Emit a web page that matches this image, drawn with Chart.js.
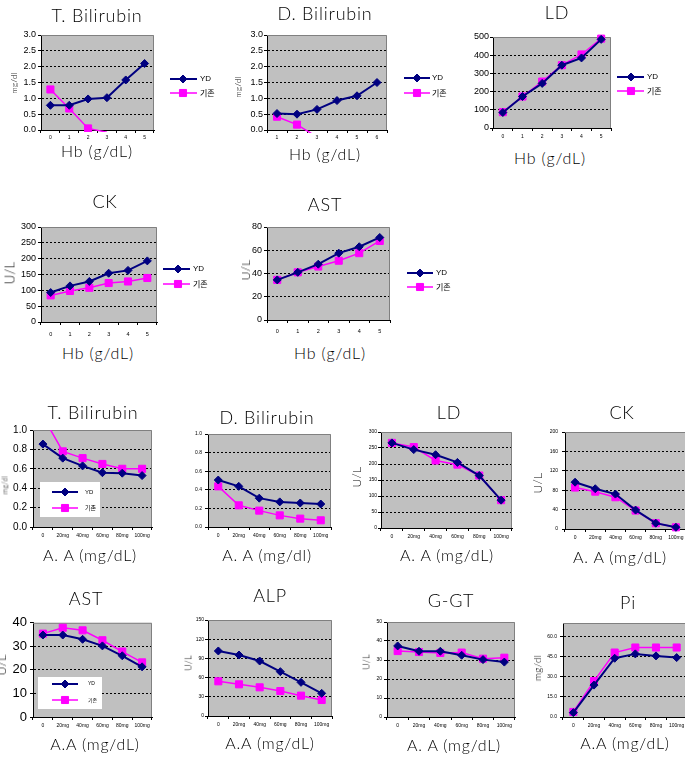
<!DOCTYPE html>
<html><head><meta charset="utf-8">
<script src="https://cdn.jsdelivr.net/npm/chart.js@4.4.0/dist/chart.umd.min.js"></script>
<style>
html,body{margin:0;padding:0;background:#fff;overflow:hidden;width:685px;height:760px;position:relative;}
canvas.c{position:absolute;}
.t{position:absolute;white-space:nowrap;font-family:'Liberation Sans',Arial,sans-serif;color:#000;line-height:1;}
.h{font-family:Lato,'Liberation Sans',sans-serif;font-weight:300;}
</style></head><body>
<script>
// ---------- data ----------
const hbLabels  = ['0','1','2','3','4','5'];
const hbLabels2 = ['1','2','3','4','5','6'];
const aaLabels  = ['0','20mg','40mg','60mg','80mg','100mg'];
const seriesNames = ['YD','기존'];

const tbHbAxis = [0, 3, 0.5];
const tbHbYD   = [0.78, 0.78, 0.98, 1.02, 1.58, 2.10];
const tbHbOld  = [1.28, 0.68, 0.05, -0.07, null, null];

const dbHbAxis = [0, 3, 0.5];
const dbHbYD   = [0.52, 0.50, 0.65, 0.93, 1.08, 1.50];
const dbHbOld  = [0.42, 0.17, -0.22, null, null, null];

const ldHbAxis = [0, 500, 100];
const ldHbYD   = [85, 173, 245, 345, 385, 487];
const ldHbOld  = [87, 173, 255, 345, 404, 491];

const ckHbAxis = [0, 300, 50];
const ckHbYD   = [93, 114, 128, 154, 163, 193];
const ckHbOld  = [84, 98, 108, 123, 128, 139];

const astHbAxis = [0, 80, 10];
const astHbYD   = [34.5, 41, 48, 57.5, 63, 71];
const astHbOld  = [34.5, 41, 46, 51, 57.5, 68];

const tbAaAxis = [0, 1, 0.2];
const tbAaYD   = [0.855, 0.71, 0.63, 0.56, 0.555, 0.53];
const tbAaOld  = [1.14, 0.78, 0.71, 0.65, 0.60, 0.60];

const dbAaAxis = [0, 1, 0.2];
const dbAaYD   = [0.505, 0.437, 0.31, 0.27, 0.258, 0.247];
const dbAaOld  = [0.437, 0.233, 0.176, 0.125, 0.09, 0.072];

const ldAaAxis = [0, 300, 50];
const ldAaYD   = [266, 245, 229, 205, 164, 87];
const ldAaOld  = [266, 253, 211, 198, 164, 87];

const ckAaAxis = [0, 200, 40];
const ckAaYD   = [96.5, 83, 72, 39, 12, 3.5];
const ckAaOld  = [85.5, 77, 65.5, 38, 12, 3.5];

const astAaAxis = [0, 40, 10];
const astAaYD   = [34.8, 34.8, 33, 30.2, 26, 21.3];
const astAaOld  = [35.4, 37.9, 36.8, 32.6, 27.8, 23.2];

const alpAaAxis = [0, 150, 30];
const alpAaYD   = [101.6, 95.3, 85.9, 69.3, 52.6, 35.4];
const alpAaOld  = [54.2, 49.5, 44.8, 39, 31.8, 25];

const ggtAaAxis = [0, 50, 10];
const ggtAaYD   = [37.4, 34.6, 34.6, 32.5, 30.2, 28.9];
const ggtAaOld  = [34.7, 34.2, 33.7, 33.9, 30.7, 31.2];

const piAaAxis = [0, 70, 15];
const piAaYD   = [3.25, 23.75, 43.75, 47, 45.5, 44.25];
const piAaOld  = [3.75, 26.75, 48, 51.75, 51.75, 51.75];

// ---------- layout / style ----------
const F = "'Liberation Sans', Arial, sans-serif";
const K = "'Noto Sans CJK KR', sans-serif";
const NAVY = '#000080', MAG = '#FF00FF';

const panels = [
 {L:41,T:35,R:154,B:130, labels:hbLabels, yd:tbHbYD, old:tbHbOld, axis:tbHbAxis, dec:1, yf:9, yGap:5, xf:5, xOff:8,
  title:['T. Bilirubin',97,15,18], xt:['Hb (g/dL)',97,151,16], yt:['mg/dl',14,83,8],
  leg:{x1:170,x2:197,mx:183,tx:200,y1:79,y2:93,f:8}, padR:65, clipB:2},
 {L:267,T:35,R:387,B:130, labels:hbLabels2, yd:dbHbYD, old:dbHbOld, axis:dbHbAxis, dec:1, yf:9, yGap:4, xf:5, xOff:8,
  title:['D. Bilirubin',325,13,18], xt:['Hb (g/dL)',325,154,16], yt:['mg/dl',238,87,8],
  leg:{x1:404,x2:430,mx:417,tx:432,y1:78,y2:93,f:8}, padR:68, clipB:3},
 {L:493,T:37,R:611,B:128, labels:hbLabels, yd:ldHbYD, old:ldHbOld, axis:ldHbAxis, dec:0, yf:9, yGap:4, xf:5, xOff:9,
  title:['LD',557,12,18], xt:['Hb (g/dL)',550,158,16], yt:null,
  leg:{x1:617,x2:644,mx:631,tx:647,y1:77,y2:91,f:8}, padR:72},
 {L:41,T:227,R:157,B:322, labels:hbLabels, yd:ckHbYD, old:ckHbOld, axis:ckHbAxis, dec:0, yf:9, yGap:5, xf:5.5, xOff:12,
  title:['CK',105,201,18], xt:['Hb (g/dL)',98,353,16], yt:['U/L',10,273,13],
  leg:{x1:163,x2:190,mx:178,tx:193,y1:269,y2:284,f:8}, padR:62},
 {L:267,T:227,R:390,B:320, labels:hbLabels, yd:astHbYD, old:astHbOld, axis:astHbAxis, dec:0, yf:9, yGap:5, xf:5.5, xOff:11,
  title:['AST',325,204,18], xt:['Hb (g/dL)',330,353,16], yt:['U/L',246,270,12],
  leg:{x1:407,x2:433,mx:420,tx:436,y1:273,y2:287,f:8}, padR:68},
 {L:33,T:430,R:152,B:527, labels:aaLabels, yd:tbAaYD, old:tbAaOld, axis:tbAaAxis, dec:1, yf:10, yGap:6, xf:5, xOff:9,
  title:['T. Bilirubin',93,412,18], xt:['A. A (mg/dL)',90,555,16], yt:['mg/dl',5,485,7],
  leg:{box:[40,482,60,35],x1:52,x2:78,mx:65,tx:85,y1:492,y2:508,f:6}, padR:4, clipT:0},
 {L:208,T:434,R:331,B:527, labels:aaLabels, yd:dbAaYD, old:dbAaOld, axis:dbAaAxis, dec:1, yf:5, yGap:6, xf:5, xOff:9,
  title:['D. Bilirubin',267,417,18], xt:['A. A (mg/dl)',267,555,16], yt:null, leg:null, padR:4},
 {L:381,T:432,R:512,B:528, labels:aaLabels, yd:ldAaYD, old:ldAaOld, axis:ldAaAxis, dec:0, yf:5, yGap:4, xf:5, xOff:9,
  title:['LD',449,412,18], xt:['A. A (mg/dL)',447,555,16], yt:['U/L',357,477,12], leg:null, padR:4},
 {L:565,T:432,R:686,B:529, labels:aaLabels, yd:ckAaYD, old:ckAaOld, axis:ckAaAxis, dec:0, yf:5, yGap:7, xf:5, xOff:9,
  title:['CK',622,412,18], xt:['A. A (mg/dL)',620,557,16], yt:['U/L',538,483,12], leg:null, padR:4},
 {L:33,T:622,R:152,B:717, labels:aaLabels, yd:astAaYD, old:astAaOld, axis:astAaAxis, dec:0, yf:13, yGap:6, xf:5, xOff:9,
  title:['AST',86,598,18], xt:['A.A (mg/dL)',95,744,16], yt:['U/L',2,665,12],
  leg:{box:[38,677,64,32],x1:52,x2:78,mx:65,tx:88,y1:684,y2:700,f:5}, padR:4},
 {L:208,T:620,R:332,B:716, labels:aaLabels, yd:alpAaYD, old:alpAaOld, axis:alpAaAxis, dec:0, yf:5, yGap:4, xf:5, xOff:9,
  title:['ALP',270,595,18], xt:['A.A (mg/dL)',270,743,16], yt:['U/L',188,663,9], leg:null, padR:4},
 {L:387,T:622,R:515,B:717, labels:aaLabels, yd:ggtAaYD, old:ggtAaOld, axis:ggtAaAxis, dec:0, yf:5, yGap:5, xf:5, xOff:9,
  title:['G-GT',451,600,18], xt:['A. A (mg/dL)',454,745,16], yt:['U/L',366,662,9], leg:null, padR:4},
 {L:563,T:623,R:687,B:717, labels:aaLabels, yd:piAaYD, old:piAaOld, axis:piAaAxis, dec:1, yf:5, yGap:6, xf:5, xOff:9,
  title:['Pi',628,602,18], xt:['A.A (mg/dL)',625,743,16], yt:['mg/dl',537,668,10], leg:null, padR:4}
];

function txt(s, cx, cy, size, rot, ls, cls) {
  const d = document.createElement('div');
  d.className = 't' + (cls ? ' ' + cls : ''); d.textContent = s;
  d.style.left = cx + 'px'; d.style.top = cy + 'px'; d.style.fontSize = size + 'px';
  if (ls) d.style.letterSpacing = ls + 'px';
  d.style.transform = 'translate(-50%,-50%)' + (rot ? ' rotate(-90deg)' : '');
  document.body.appendChild(d);
}

function marker(ctx, style, x, y, r, color) {
  ctx.save(); ctx.fillStyle = color; ctx.strokeStyle = color; ctx.lineWidth = 1;
  ctx.beginPath();
  if (style === 'rectRot') {
    ctx.moveTo(x, y - r); ctx.lineTo(x + r, y); ctx.lineTo(x, y + r); ctx.lineTo(x - r, y); ctx.closePath();
  } else {
    const s = r * Math.SQRT1_2; ctx.rect(x - s, y - s, 2 * s, 2 * s);
  }
  ctx.fill(); ctx.stroke(); ctx.restore();
}

const deco = {
  id: 'deco',
  beforeDraw(chart) {
    const a = chart.chartArea, ctx = chart.ctx;
    ctx.save(); ctx.fillStyle = '#C0C0C0';
    ctx.fillRect(a.left, a.top, a.right - a.left, a.bottom - a.top); ctx.restore();
  },
  beforeDatasetsDraw(chart) {
    const a = chart.chartArea, ctx = chart.ctx, p = chart.options.plugins.deco;
    ctx.save(); ctx.strokeStyle = '#808080'; ctx.lineWidth = 1;
    ctx.beginPath(); ctx.moveTo(a.left, a.top + 0.5); ctx.lineTo(a.right - 0.5, a.top + 0.5); ctx.lineTo(a.right - 0.5, a.bottom);
    ctx.stroke(); ctx.restore();
    const lg = p.leg;
    if (lg && lg.box) {
      ctx.save(); ctx.fillStyle = '#fff';
      ctx.fillRect(lg.box[0] - p.ox, lg.box[1] - p.oy, lg.box[2], lg.box[3]); ctx.restore();
    }
  },
  afterDraw(chart) {
    const ctx = chart.ctx, p = chart.options.plugins.deco, lg = p.leg;
    if (!lg) return;
    const rows = [[lg.y1, NAVY, 'rectRot', 4, seriesNames[0], F, 2], [lg.y2, MAG, 'rect', 5, seriesNames[1], K, 1.5]];
    rows.forEach(([y, col, st, r, name, fam, lw]) => {
      const yy = y - p.oy;
      ctx.save(); ctx.strokeStyle = col; ctx.lineWidth = lw;
      ctx.beginPath(); ctx.moveTo(lg.x1 - p.ox, yy); ctx.lineTo(lg.x2 - p.ox, yy); ctx.stroke(); ctx.restore();
      marker(ctx, st, lg.mx - p.ox, yy, r, col);
      ctx.save(); ctx.fillStyle = '#000'; ctx.font = lg.f + 'px ' + fam; ctx.textBaseline = 'middle'; ctx.textAlign = 'left';
      ctx.fillText(name, lg.tx - p.ox, yy); ctx.restore();
    });
  }
};

function build(c) {
  const yW = 32, padTop = 10, xH = 20, padR = c.padR;
  const cl = c.L - yW, ct = c.T - padTop;
  const W = (c.R - c.L) + yW + padR, H = (c.B - c.T) + padTop + xH;
  const cv = document.createElement('canvas');
  cv.className = 'c'; cv.width = W; cv.height = H;
  cv.style.left = cl + 'px'; cv.style.top = ct + 'px'; cv.style.width = W + 'px'; cv.style.height = H + 'px';
  document.body.appendChild(cv);
  const [mn, mx, st] = c.axis;
  const clip = {left: 10, right: 10, top: c.clipT ?? 10, bottom: c.clipB ?? 10};
  const rad = r => (ctx => (ctx.raw == null || ctx.raw < mn || ctx.raw > mx) ? 0 : r);
  new Chart(cv, {
    type: 'line',
    data: {
      labels: c.labels,
      datasets: [
        {label: seriesNames[0], data: c.yd, borderColor: NAVY, backgroundColor: NAVY, borderWidth: 2,
         pointStyle: 'rectRot', pointRadius: rad(4), pointBorderWidth: 1, tension: 0, clip},
        {label: seriesNames[1], data: c.old, borderColor: MAG, backgroundColor: MAG, borderWidth: 1.5,
         pointStyle: 'rect', pointRadius: rad(5), pointBorderWidth: 1, tension: 0, clip}
      ]
    },
    options: {
      responsive: false, animation: false, events: [],
      layout: {autoPadding: false, padding: {left: 0, top: padTop, right: padR, bottom: 0}},
      plugins: {legend: {display: false}, tooltip: {enabled: false}, title: {display: false},
        deco: {leg: c.leg, ox: cl, oy: ct}},
      scales: {
        x: {type: 'category', offset: true,
          grid: {display: true, drawOnChartArea: false, drawTicks: true, tickLength: 3, offset: true, tickColor: '#000'},
          border: {display: true, color: '#000', width: 1},
          ticks: {font: {size: c.xf, family: F}, color: '#000', padding: c.xOff - 3 - 0.6 * c.xf, maxRotation: 0, autoSkip: false},
          afterFit: s => { s.height = xH; }
        },
        y: {type: 'linear', min: mn, max: mx,
          ticks: {stepSize: st, font: {size: c.yf, family: F}, color: '#000', padding: c.yGap - 3,
            callback: v => Number(v).toFixed(c.dec)},
          grid: {color: ctx => (ctx.tick && (ctx.tick.value <= mn || ctx.tick.value >= mx)) ? 'rgba(0,0,0,0)' : '#000',
            lineWidth: 1, tickLength: 3, tickColor: '#000'},
          border: {display: true, color: '#000', width: 1, dash: [2, 2]},
          afterBuildTicks: s => { s.ticks = s.ticks.filter(t => Math.abs(t.value / st - Math.round(t.value / st)) < 1e-6); },
          afterFit: s => { s.width = yW; }
        }
      }
    },
    plugins: [deco]
  });
  txt(c.title[0], c.title[1], c.title[2], c.title[3], false, 0.8, 'h');
  txt(c.xt[0], c.xt[1], c.xt[2], c.xt[3], false, 0.8, 'h');
  if (c.yt) txt(c.yt[0], c.yt[1], c.yt[2], c.yt[3], true, 0.3, 'h');
}
panels.forEach(build);
</script>
</body></html>
